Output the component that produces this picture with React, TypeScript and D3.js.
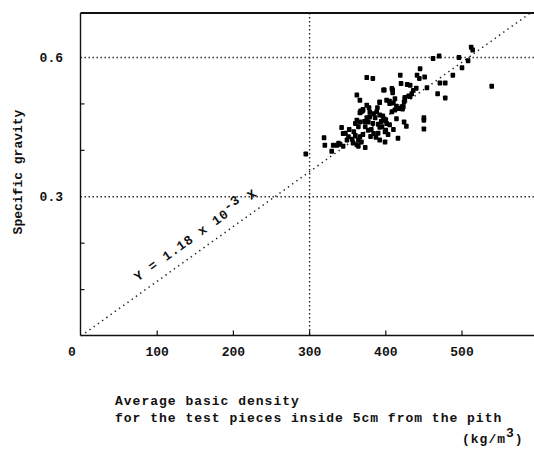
import React from "react";
import * as d3 from "d3";

const densityValues = [
  512, 514, 470, 462, 496, 508, 500, 488, 539, 445, 441, 444, 451, 471, 478, 419, 375, 383, 428, 432,
  420, 440, 436, 434, 432, 454, 468, 478, 425, 424, 421, 422, 424, 427, 450, 450, 450, 397, 408, 409,
  392, 401, 405, 410, 412, 408, 375, 370, 388, 384, 392, 379, 377, 366, 362, 360, 364, 397, 401, 395,
  390, 373, 377, 381, 384, 416, 392, 399, 373, 295, 319, 320, 329, 331, 336, 340, 338, 342, 344, 351,
  357, 360, 364, 364, 366, 368, 370, 366, 362, 366, 368, 349, 344, 400, 403, 414, 398, 409, 425, 430,
  412, 414, 417, 423, 367, 392, 405, 379, 386, 383, 392, 396, 400, 405, 399, 390, 380, 370, 375, 378,
  358, 352, 387, 372, 389, 356, 347, 362, 394, 410,
];
const gravityValues = [
  0.622, 0.616, 0.603, 0.598, 0.6, 0.593, 0.578, 0.562, 0.538, 0.576, 0.562, 0.555, 0.558, 0.545, 0.545, 0.562, 0.557, 0.555, 0.542, 0.54,
  0.544, 0.534, 0.529, 0.522, 0.516, 0.535, 0.522, 0.513, 0.511, 0.504, 0.494, 0.489, 0.461, 0.452, 0.47, 0.465, 0.446, 0.53, 0.533, 0.524,
  0.504, 0.508, 0.501, 0.502, 0.487, 0.483, 0.497, 0.486, 0.483, 0.479, 0.476, 0.472, 0.461, 0.481, 0.465, 0.458, 0.451, 0.465, 0.458, 0.451,
  0.456, 0.451, 0.443, 0.445, 0.436, 0.426, 0.422, 0.418, 0.406, 0.392, 0.427, 0.411, 0.398, 0.411, 0.411, 0.413, 0.415, 0.449, 0.436, 0.429,
  0.416, 0.432, 0.422, 0.409, 0.461, 0.483, 0.488, 0.508, 0.519, 0.429, 0.418, 0.422, 0.409, 0.443, 0.434, 0.468, 0.53, 0.53, 0.514, 0.517,
  0.511, 0.495, 0.49, 0.494, 0.485, 0.503, 0.506, 0.482, 0.47, 0.458, 0.45, 0.474, 0.466, 0.455, 0.44, 0.437, 0.43, 0.434, 0.47, 0.492,
  0.44, 0.445, 0.428, 0.462, 0.492, 0.424, 0.437, 0.412, 0.462, 0.445,
];

const xTickValues = [100, 200, 300, 400, 500];
const xTickLabels = ["100", "200", "300", "400", "500"];
const yMinorTicks = [0.1, 0.2, 0.4, 0.5];
const yGridValues = [0.3, 0.6];
const yTickLabels = ["0.3", "0.6"];
const xGridValues = [300];
const slope = 1.18e-3;

const W = 534;
const H = 449;
const left = 80.5;
const top = 13;
const bottom = 335.5;
const right = 534;

const FONT = "'Liberation Mono', 'DejaVu Sans Mono', monospace";

export default function App() {
  const x = d3.scaleLinear().domain([0, 500]).range([81, 462]);
  const y = d3.scaleLinear().domain([0, 0.6]).range([336, 57.5]);
  const yTop = y.invert(top);
  const xEnd = yTop / slope;
  const linePath = d3.line<number>()(
    [
      [x(0), y(0)],
      [x(xEnd), y(xEnd * slope)],
    ] as any
  );
  const angle = (Math.atan2(y(0) - y(0.3), x(0.3 / slope) - x(0)) * 180) / Math.PI;
  const pts = densityValues.map((d, i) => [d, gravityValues[i]]);
  const tx0 = 162;
  const tAnchorX = x(tx0);
  const tAnchorY = y(tx0 * slope);

  return (
    <svg
      width={W}
      height={H}
      style={{ position: "absolute", left: 0, top: 0, background: "#fff" }}
      fontFamily={FONT}
      fontWeight="bold"
    >
      <rect x={0} y={0} width={W} height={H} fill="#fff" />
      {yGridValues.map((v) => (
        <line
          key={"gy" + v}
          x1={left}
          x2={right}
          y1={y(v)}
          y2={y(v)}
          stroke="#222"
          strokeWidth={1.4}
          strokeDasharray="1.4 2.6"
        />
      ))}
      {xGridValues.map((v) => (
        <line
          key={"gx" + v}
          x1={x(v)}
          x2={x(v)}
          y1={top}
          y2={bottom}
          stroke="#222"
          strokeWidth={1.4}
          strokeDasharray="1.4 2.6"
        />
      ))}
      <path d={linePath || ""} stroke="#222" strokeWidth={1.5} strokeDasharray="1.4 3.8" fill="none" />
      <line x1={left} x2={right} y1={top} y2={top} stroke="#111" strokeWidth={2} />
      <line x1={left} x2={left} y1={top} y2={bottom} stroke="#111" strokeWidth={1.4} />
      <line x1={left} x2={right} y1={bottom} y2={bottom} stroke="#111" strokeWidth={1.6} />
      {xTickValues.map((v) => (
        <line key={"xt" + v} x1={x(v)} x2={x(v)} y1={bottom} y2={bottom - 5} stroke="#111" strokeWidth={1.2} />
      ))}
      {yMinorTicks.map((v) => (
        <line key={"yt" + v} x1={left} x2={left + 4} y1={y(v)} y2={y(v)} stroke="#111" strokeWidth={1.2} />
      ))}
      {xTickValues.map((v, i) => (
        <text key={"xl" + v} x={x(v)} y={356} textAnchor="middle" fontSize={13} fill="#111">
          {xTickLabels[i]}
        </text>
      ))}
      <text x={72} y={356} textAnchor="middle" fontSize={13} fill="#111">
        0
      </text>
      {yGridValues.map((v, i) => (
        <text key={"yl" + v} x={63} y={y(v) + 4.5} textAnchor="end" fontSize={13} fill="#111">
          {yTickLabels[i]}
        </text>
      ))}
      {pts.map((p, i) => (
        <rect
          key={"p" + i}
          x={x(p[0]) - 2.3}
          y={y(p[1]) - 2.5}
          width={4.6}
          height={5}
          rx={0.8}
          fill="#000"
        />
      ))}
      <g transform={`translate(${tAnchorX},${tAnchorY}) rotate(${-angle})`}>
        <text x={0} y={-11} textAnchor="middle" fontSize={13} letterSpacing={0.9} fill="#111">
          {"Y = 1.18 x 10"}
          <tspan dy={-5}>-3</tspan>
          <tspan dy={5}>{" X"}</tspan>
        </text>
      </g>
      <text transform={`translate(22,172) rotate(-90)`} textAnchor="middle" fontSize={13} fill="#111">
        Specific gravity
      </text>
      <text x={115} y={405} fontSize={13} letterSpacing={1} fill="#111">
        Average basic density
      </text>
      <text x={115} y={422} fontSize={13} letterSpacing={1} fill="#111">
        for the test pieces inside 5cm from the pith
      </text>
      <text x={462} y={443} fontSize={13} letterSpacing={1} fill="#111">
        (kg/m<tspan dy={-6}>3</tspan>
        <tspan dy={6}>)</tspan>
      </text>
    </svg>
  );
}
